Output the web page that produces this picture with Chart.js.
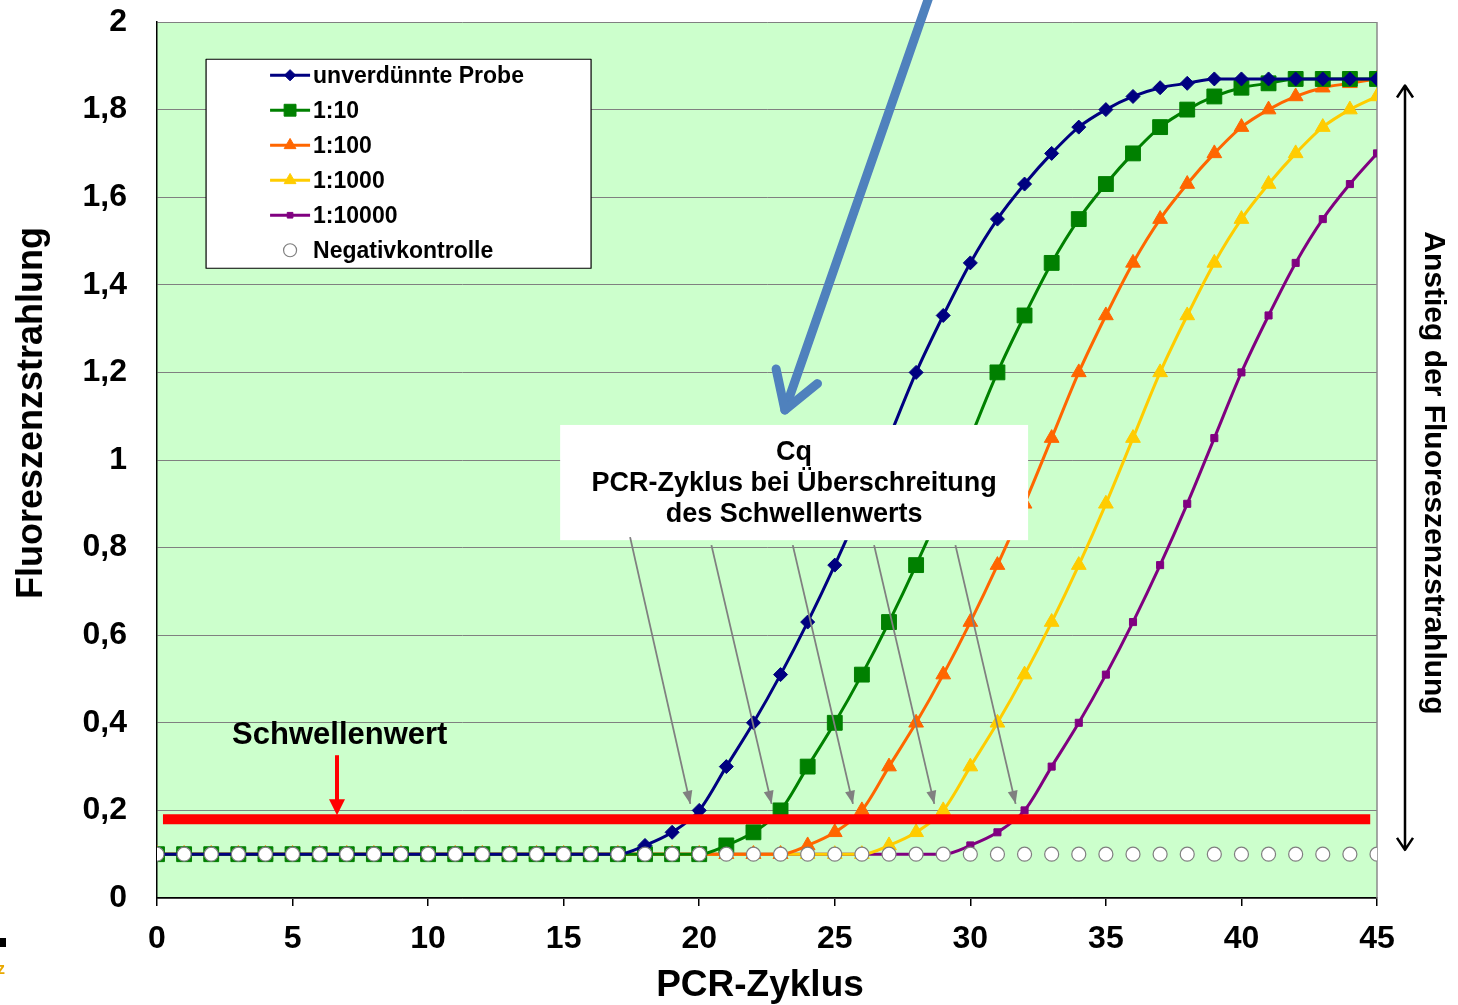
<!DOCTYPE html>
<html>
<head>
<meta charset="utf-8">
<script src="https://cdn.jsdelivr.net/npm/chart.js@4.4.1/dist/chart.umd.min.js"></script>
<style>
	html, body { margin: 0; padding: 0; background: #fff; }
	#wrap { width: 1458px; height: 1005px; position: relative; }
</style>
</head>
<body>
<div id="wrap"><canvas id="pcr" width="1458" height="1005"></canvas></div>
<script>
	'use strict';

	// PCR cycles 0..45
	var cycles = [0, 1, 2, 3, 4, 5, 6, 7, 8, 9, 10, 11, 12, 13, 14, 15, 16, 17, 18, 19, 20, 21, 22,
		23, 24, 25, 26, 27, 28, 29, 30, 31, 32, 33, 34, 35, 36, 37, 38, 39, 40, 41, 42, 43, 44, 45];

	var unverduennt = [0.1, 0.1, 0.1, 0.1, 0.1, 0.1, 0.1, 0.1, 0.1, 0.1, 0.1, 0.1, 0.1, 0.1, 0.1, 0.1, 0.1, 0.1,
		0.12, 0.15, 0.2, 0.3, 0.4, 0.51, 0.63, 0.76, 0.9, 1.05, 1.2, 1.33, 1.45, 1.55, 1.63, 1.7, 1.76, 1.8,
		1.83, 1.85, 1.86, 1.87, 1.87, 1.87, 1.87, 1.87, 1.87, 1.87];

	var verd10 = [0.1, 0.1, 0.1, 0.1, 0.1, 0.1, 0.1, 0.1, 0.1, 0.1, 0.1, 0.1, 0.1, 0.1, 0.1, 0.1, 0.1, 0.1, 0.1, 0.1, 0.1,
		0.12, 0.15, 0.2, 0.3, 0.4, 0.51, 0.63, 0.76, 0.9, 1.05, 1.2, 1.33, 1.45, 1.55, 1.63, 1.7, 1.76, 1.8,
		1.83, 1.85, 1.86, 1.87, 1.87, 1.87, 1.87];

	var verd100 = [0.1, 0.1, 0.1, 0.1, 0.1, 0.1, 0.1, 0.1, 0.1, 0.1, 0.1, 0.1, 0.1, 0.1, 0.1, 0.1, 0.1, 0.1, 0.1, 0.1, 0.1,
		0.1, 0.1, 0.1, 0.12, 0.15, 0.2, 0.3, 0.4, 0.51, 0.63, 0.76, 0.9, 1.05, 1.2, 1.33, 1.45, 1.55, 1.63, 1.7,
		1.76, 1.8, 1.83, 1.85, 1.86, 1.87];

	var verd1000 = [0.1, 0.1, 0.1, 0.1, 0.1, 0.1, 0.1, 0.1, 0.1, 0.1, 0.1, 0.1, 0.1, 0.1, 0.1, 0.1, 0.1, 0.1, 0.1, 0.1, 0.1,
		0.1, 0.1, 0.1, 0.1, 0.1, 0.1, 0.12, 0.15, 0.2, 0.3, 0.4, 0.51, 0.63, 0.76, 0.9, 1.05, 1.2, 1.33, 1.45,
		1.55, 1.63, 1.7, 1.76, 1.8, 1.83];

	var verd10000 = [0.1, 0.1, 0.1, 0.1, 0.1, 0.1, 0.1, 0.1, 0.1, 0.1, 0.1, 0.1, 0.1, 0.1, 0.1, 0.1, 0.1, 0.1, 0.1, 0.1, 0.1,
		0.1, 0.1, 0.1, 0.1, 0.1, 0.1, 0.1, 0.1, 0.1, 0.12, 0.15, 0.2, 0.3, 0.4, 0.51, 0.63, 0.76, 0.9, 1.05,
		1.2, 1.33, 1.45, 1.55, 1.63, 1.7];

	var negativ = [0.1, 0.1, 0.1, 0.1, 0.1, 0.1, 0.1, 0.1, 0.1, 0.1, 0.1, 0.1, 0.1, 0.1, 0.1, 0.1, 0.1, 0.1, 0.1, 0.1, 0.1,
		0.1, 0.1, 0.1, 0.1, 0.1, 0.1, 0.1, 0.1, 0.1, 0.1, 0.1, 0.1, 0.1, 0.1, 0.1, 0.1, 0.1, 0.1, 0.1,
		0.1, 0.1, 0.1, 0.1, 0.1, 0.1];

	var seriesLabels = ['unverdünnte Probe', '1:10', '1:100', '1:1000', '1:10000', 'Negativkontrolle'];

	// threshold (Schwellenwert) and the Cq cycles where each dilution crosses it
	var schwellenwert = 0.18;
	var schwellenRange = [0.22, 44.75];
	var cqCycles = [20, 23, 26, 29, 32];

	var FONT = '"Liberation Sans", Arial, sans-serif';

	function pairs(ys) {
		var out = [];
		for (var i = 0; i < cycles.length; i++) {
			out.push({x: cycles[i], y: ys[i]});
		}
		return out;
	}

	var styles = [
		{color: '#000080', point: 'rectRot', radius: 7},
		{color: '#008000', point: 'rect', radius: 10.5},
		{color: '#ff6600', point: 'triangle', radius: 8.5},
		{color: '#ffcc00', point: 'triangle', radius: 8.5},
		{color: '#800080', point: 'rect', radius: 5}
	];
	var seriesData = [unverduennt, verd10, verd100, verd1000, verd10000];

	var datasets = [];
	seriesData.forEach(function (ys, i) {
		datasets.push({
			label: seriesLabels[i],
			data: pairs(ys),
			borderColor: styles[i].color,
			backgroundColor: styles[i].color,
			borderWidth: 3,
			pointStyle: styles[i].point,
			pointRadius: styles[i].radius,
			pointBorderWidth: 1,
			cubicInterpolationMode: 'monotone',
			order: 2 + i
		});
	});
	datasets.push({
		label: seriesLabels[5],
		data: pairs(negativ),
		showLine: false,
		borderColor: '#7f7f7f',
		backgroundColor: '#ffffff',
		pointStyle: 'circle',
		pointRadius: 7,
		pointBorderWidth: 1.2,
		order: 0
	});
	datasets.push({
		label: 'Schwellenwert',
		data: [{x: schwellenRange[0], y: schwellenwert}, {x: schwellenRange[1], y: schwellenwert}],
		borderColor: '#ff0000',
		borderWidth: 10,
		borderCapStyle: 'butt',
		pointRadius: 0,
		order: 1
	});

	function arrowHead(ctx, x1, y1, x2, y2, len, half) {
		var ang = Math.atan2(y2 - y1, x2 - x1);
		ctx.beginPath();
		ctx.moveTo(x2, y2);
		ctx.lineTo(x2 - len * Math.cos(ang) + half * Math.sin(ang), y2 - len * Math.sin(ang) - half * Math.cos(ang));
		ctx.lineTo(x2 - len * Math.cos(ang) - half * Math.sin(ang), y2 - len * Math.sin(ang) + half * Math.cos(ang));
		ctx.closePath();
		ctx.fill();
	}

	var decor = {
		id: 'pcrDecor',
		beforeDraw: function (chart) {
			var ctx = chart.ctx, a = chart.chartArea;
			ctx.save();
			ctx.fillStyle = '#ffffff';
			ctx.fillRect(0, 0, chart.width, chart.height);
			ctx.fillStyle = '#ccffcc';
			ctx.fillRect(a.left, a.top, a.right - a.left, a.bottom - a.top);
			ctx.restore();
		},
		beforeDatasetsDraw: function (chart) {
			var ctx = chart.ctx, a = chart.chartArea;
			ctx.save();
			ctx.strokeStyle = '#8a8a8a';
			ctx.lineWidth = 1.5;
			ctx.beginPath();
			ctx.moveTo(a.right, a.top);
			ctx.lineTo(a.right, a.bottom);
			ctx.stroke();
			ctx.restore();
		},
		afterDatasetsDraw: function (chart) {
			var ctx = chart.ctx, a = chart.chartArea,
				xs = chart.scales.x, ys = chart.scales.y;
			ctx.save();

			// Cq box
			var bl = xs.getPixelForValue(14.87), br = xs.getPixelForValue(32.13),
				bt = ys.getPixelForValue(1.08), bb = ys.getPixelForValue(0.817);
			ctx.fillStyle = '#ffffff';
			ctx.fillRect(bl, bt, br - bl, bb - bt);
			ctx.fillStyle = '#000';
			ctx.font = 'bold 27px ' + FONT;
			ctx.textAlign = 'center';
			ctx.textBaseline = 'middle';
			var cx = (bl + br) / 2;
			ctx.fillText('Cq', cx, bt + 28);
			ctx.fillText('PCR-Zyklus bei Überschreitung', cx, bt + 59);
			ctx.fillText('des Schwellenwerts', cx, bt + 90);

			// grey arrows from box to the Cq crossings
			ctx.strokeStyle = '#808080';
			ctx.fillStyle = '#808080';
			ctx.lineWidth = 1.8;
			cqCycles.forEach(function (cq, i) {
				var x1 = xs.getPixelForValue(cq - 2.55), y1 = bb + (i === 0 ? -3 : 5),
					x2 = xs.getPixelForValue(cq - 0.33), y2 = ys.getPixelForValue(0.215);
				ctx.beginPath();
				ctx.moveTo(x1, y1);
				ctx.lineTo(x2, y2);
				ctx.stroke();
				arrowHead(ctx, x1, y1, x2, y2, 13, 5);
			});

			// Schwellenwert label + red arrow
			ctx.fillStyle = '#000';
			ctx.font = 'bold 31px ' + FONT;
			ctx.textAlign = 'left';
			ctx.fillText('Schwellenwert', xs.getPixelForValue(2.77), ys.getPixelForValue(0.372));
			var rx = xs.getPixelForValue(6.64), ry1 = ys.getPixelForValue(0.326), ry2 = ys.getPixelForValue(schwellenwert) - 4;
			ctx.strokeStyle = '#ff0000';
			ctx.fillStyle = '#ff0000';
			ctx.lineWidth = 4;
			ctx.beginPath();
			ctx.moveTo(rx, ry1);
			ctx.lineTo(rx, ry2 - 10);
			ctx.stroke();
			arrowHead(ctx, rx, ry1, rx, ry2, 16, 8);

			// big blue arrow pointing to the box
			var tipX = xs.getPixelForValue(23.16), tipY = ys.getPixelForValue(1.114),
				sX = xs.getPixelForValue(28.5), sY = 0;
			var ang = Math.atan2(tipY - sY, tipX - sX);
			ctx.strokeStyle = '#4f81bd';
			ctx.lineWidth = 9;
			ctx.lineCap = 'round';
			ctx.lineJoin = 'round';
			ctx.beginPath();
			ctx.moveTo(sX, sY - 5);
			ctx.lineTo(tipX, tipY);
			ctx.stroke();
			ctx.beginPath();
			ctx.moveTo(tipX - 42 * Math.cos(ang - 0.55), tipY - 42 * Math.sin(ang - 0.55));
			ctx.lineTo(tipX, tipY);
			ctx.lineTo(tipX - 42 * Math.cos(ang + 0.55), tipY - 42 * Math.sin(ang + 0.55));
			ctx.stroke();
			ctx.lineCap = 'butt';

			// right double arrow + label
			var dx = a.right + 28, dy1 = ys.getPixelForValue(1.855), dy2 = ys.getPixelForValue(0.11);
			ctx.strokeStyle = '#000';
			ctx.lineWidth = 2.5;
			ctx.beginPath();
			ctx.moveTo(dx, dy1);
			ctx.lineTo(dx, dy2);
			ctx.moveTo(dx - 8, dy1 + 12);
			ctx.lineTo(dx, dy1);
			ctx.lineTo(dx + 8, dy1 + 12);
			ctx.moveTo(dx - 8, dy2 - 12);
			ctx.lineTo(dx, dy2);
			ctx.lineTo(dx + 8, dy2 - 12);
			ctx.stroke();
			ctx.save();
			ctx.translate(dx + 28, 473);
			ctx.rotate(Math.PI / 2);
			ctx.fillStyle = '#000';
			ctx.font = 'bold 30px ' + FONT;
			ctx.textAlign = 'center';
			ctx.textBaseline = 'middle';
			ctx.fillText('Anstieg der Fluoreszenzstrahlung', 0, 0);
			ctx.restore();

			// axis titles
			ctx.fillStyle = '#000';
			ctx.font = 'bold 36px ' + FONT;
			ctx.textAlign = 'center';
			ctx.textBaseline = 'middle';
			ctx.save();
			ctx.translate(32, 413);
			ctx.rotate(-Math.PI / 2);
			ctx.fillText('Fluoreszenzstrahlung', 0, 0);
			ctx.restore();
			ctx.font = 'bold 37px ' + FONT;
			ctx.fillText('PCR-Zyklus', (a.left + a.right) / 2 - 7, 986);

			// legend
			var lx = xs.getPixelForValue(1.81), ly = ys.getPixelForValue(1.915);
			ctx.fillStyle = '#ffffff';
			ctx.fillRect(lx, ly, 385, 209);
			ctx.strokeStyle = '#000';
			ctx.lineWidth = 1.2;
			ctx.strokeRect(lx, ly, 385, 209);
			ctx.font = 'bold 23px ' + FONT;
			ctx.textAlign = 'left';
			for (var i = 0; i < 6; i++) {
				var rowY = ly + 16 + i * 35;
				if (i < 5) {
					ctx.strokeStyle = styles[i].color;
					ctx.lineWidth = 3;
					ctx.beginPath();
					ctx.moveTo(lx + 64, rowY);
					ctx.lineTo(lx + 104, rowY);
					ctx.stroke();
					ctx.fillStyle = styles[i].color;
					ctx.strokeStyle = styles[i].color;
					ctx.lineWidth = 1;
					Chart.helpers.drawPoint(ctx, {pointStyle: styles[i].point, radius: styles[i].radius * 0.8, rotation: 0, borderWidth: 1}, lx + 84, rowY);
				} else {
					ctx.fillStyle = '#ffffff';
					ctx.strokeStyle = '#7f7f7f';
					ctx.lineWidth = 1.2;
					Chart.helpers.drawPoint(ctx, {pointStyle: 'circle', radius: 6.5, rotation: 0, borderWidth: 1.2}, lx + 84, rowY);
				}
				ctx.fillStyle = '#000';
				ctx.fillText(seriesLabels[i], lx + 107, rowY + 1);
			}

			// cropped logo remnants at the lower left
			ctx.fillStyle = '#000';
			ctx.fillRect(0, 938, 6, 9);
			ctx.fillStyle = '#e8a800';
			ctx.font = 'bold 16px ' + FONT;
			ctx.fillText('z', -3, 970);

			ctx.restore();
		}
	};

	new Chart(document.getElementById('pcr'), {
		type: 'line',
		data: {datasets: datasets},
		options: {
			responsive: false,
			animation: false,
			layout: {padding: {top: 22, right: 81, left: 0, bottom: 0}},
			plugins: {
				legend: {display: false},
				tooltip: {enabled: false}
			},
			scales: {
				x: {
					type: 'linear',
					min: 0,
					max: 45,
					afterFit: function (scale) {
						scale.height = 107;
						scale.paddingLeft = 0;
						scale.paddingRight = 0;
					},
					ticks: {
						stepSize: 5,
						color: '#000',
						padding: 14,
						font: {family: FONT, size: 32, weight: 'bold'}
					},
					grid: {drawOnChartArea: false, color: '#000', tickLength: 8, lineWidth: 1.5},
					border: {color: '#000', width: 1.5}
				},
				y: {
					min: 0,
					max: 2,
					afterFit: function (scale) {
						scale.width = 157;
						scale.paddingTop = 0;
						scale.paddingBottom = 0;
					},
					ticks: {
						stepSize: 0.2,
						color: '#000',
						padding: 30,
						font: {family: FONT, size: 32, weight: 'bold'},
						callback: function (v) {
							return (Math.round(v * 10) / 10).toString().replace('.', ',');
						}
					},
					grid: {color: '#808080', lineWidth: 1, drawTicks: false},
					border: {color: '#000', width: 1.5}
				}
			}
		},
		plugins: [decor]
	});
</script>
</body>
</html>
